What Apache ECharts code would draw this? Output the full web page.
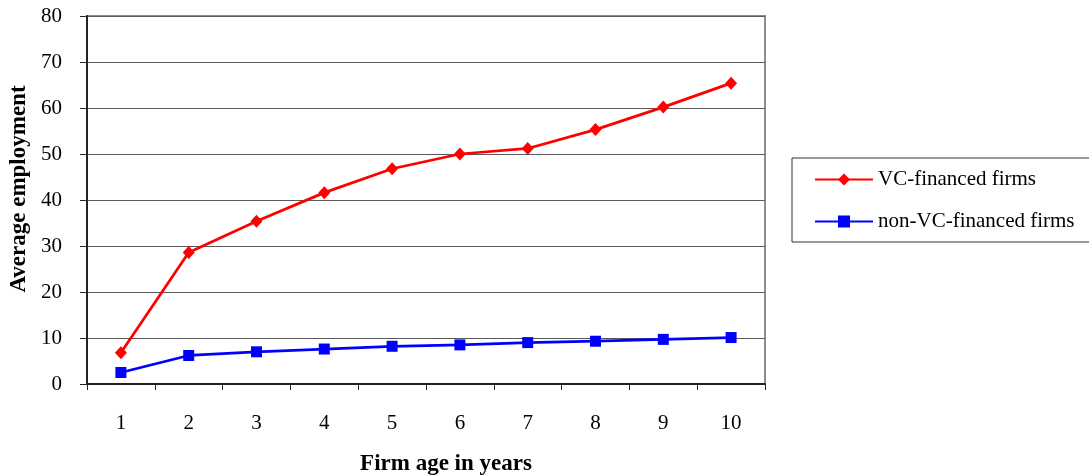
<!DOCTYPE html>
<html>
<head>
<meta charset="utf-8">
<script src="https://cdn.jsdelivr.net/npm/echarts@6/dist/echarts.min.js"></script>
<style>
  html, body { margin: 0; padding: 0; background: #fff; overflow: hidden; }
  #chart { width: 1089px; height: 476px; }
</style>
</head>
<body>
<div id="chart"></div>
<script>
// Firm age (years) on the x axis
const firmAges = ['1', '2', '3', '4', '5', '6', '7', '8', '9', '10'];
// Average employment by firm age
const vcFinanced = [6.8, 28.6, 35.4, 41.6, 46.8, 50.0, 51.2, 55.3, 60.2, 65.4];
const nonVcFinanced = [2.5, 6.2, 7.0, 7.6, 8.2, 8.5, 9.0, 9.3, 9.7, 10.1];
const seriesNames = ['VC-financed firms', 'non-VC-financed firms'];

const serif = 'Liberation Serif, Times New Roman, serif';

const chart = echarts.init(document.getElementById('chart'), null, { renderer: 'canvas' });
chart.setOption({
  animation: false,
  backgroundColor: '#fff',
  grid: {
    left: 87, top: 16, right: 324, bottom: 92,
    outerBoundsMode: 'none',
    containLabel: false,
    show: true, borderColor: '#8c8c8c', borderWidth: 2, backgroundColor: 'transparent'
  },
  legend: {
    orient: 'vertical',
    left: 792, top: 158,
    padding: [11, 30, 10, 22],
    itemGap: 21,
    itemWidth: 58,
    itemHeight: 15,
    borderColor: '#333',
    borderWidth: 1,
    textStyle: { fontFamily: serif, fontSize: 21, color: '#000' },
    data: seriesNames
  },
  xAxis: {
    type: 'category',
    data: firmAges,
    boundaryGap: true,
    name: 'Firm age in years',
    nameLocation: 'middle',
    nameGap: 69,
    nameTextStyle: { fontFamily: serif, fontSize: 23, fontWeight: 'bold', color: '#000', padding: [0, 0, 0, 40] },
    axisLine: { lineStyle: { color: '#222', width: 2 } },
    axisTick: { show: true, length: 6, lineStyle: { color: '#222', width: 1 } },
    axisLabel: { fontFamily: serif, fontSize: 21, color: '#000', margin: 29 },
    splitLine: { show: false }
  },
  yAxis: {
    type: 'value',
    min: 0, max: 80, interval: 10,
    name: 'Average employment',
    nameLocation: 'middle',
    nameRotate: 90,
    nameGap: 56,
    nameTextStyle: { fontFamily: serif, fontSize: 23, fontWeight: 'bold', color: '#000', padding: [0, 0, 0, 22] },
    axisLine: { show: true, lineStyle: { color: '#222', width: 2 } },
    axisTick: { show: true, length: 7, lineStyle: { color: '#222', width: 1 } },
    axisLabel: { fontFamily: serif, fontSize: 21, color: '#000', margin: 25 },
    splitLine: { show: true, lineStyle: { color: '#5a5a5a', width: 1 } }
  },
  series: [
    {
      name: seriesNames[0],
      type: 'line',
      data: vcFinanced,
      symbol: 'diamond',
      symbolSize: [12, 13],
      showAllSymbol: true,
      lineStyle: { color: '#ff0000', width: 2.75 },
      itemStyle: { color: '#ff0000' },
      z: 3
    },
    {
      name: seriesNames[1],
      type: 'line',
      data: nonVcFinanced,
      symbol: 'rect',
      symbolSize: 11,
      showAllSymbol: true,
      lineStyle: { color: '#0000ff', width: 2.75 },
      itemStyle: { color: '#0000ff' },
      z: 3
    }
  ]
});
</script>
</body>
</html>
